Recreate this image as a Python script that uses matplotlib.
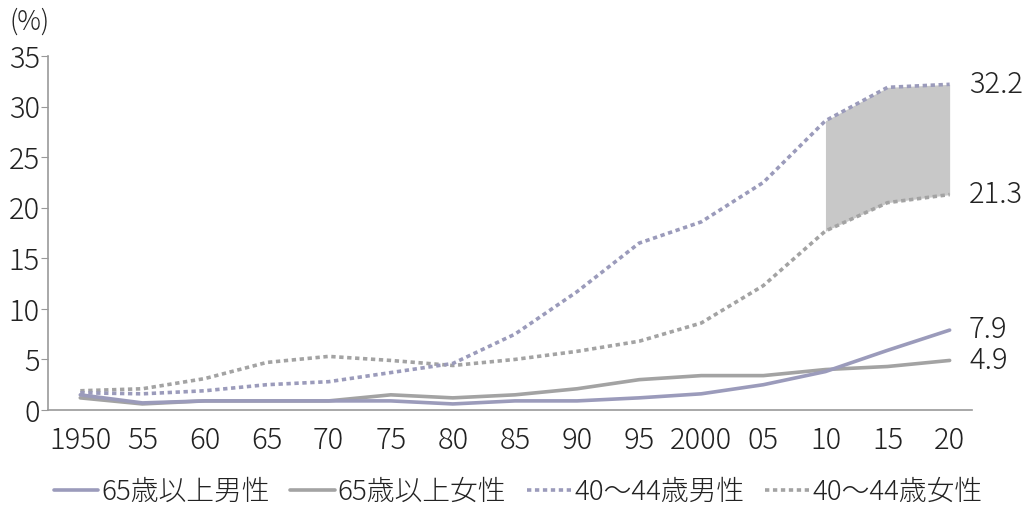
import numpy as np
import matplotlib
matplotlib.use("Agg")
import matplotlib.pyplot as plt

plt.rcParams['font.family'] = ['Noto Sans CJK JP', 'DejaVu Sans']
plt.rcParams['font.weight'] = 'light'

years = [1950, 1955, 1960, 1965, 1970, 1975, 1980, 1985, 1990, 1995, 2000, 2005, 2010, 2015, 2020]
year_labels = ["1950", "55", "60", "65", "70", "75", "80", "85", "90", "95", "2000", "05", "10", "15", "20"]

male_65 = [1.5, 0.7, 0.9, 0.9, 0.9, 0.9, 0.6, 0.9, 0.9, 1.2, 1.6, 2.5, 3.8, 5.9, 7.9]
female_65 = [1.2, 0.6, 0.9, 0.9, 0.9, 1.5, 1.2, 1.5, 2.1, 3.0, 3.4, 3.4, 4.0, 4.3, 4.9]
male_40 = [1.7, 1.6, 1.9, 2.5, 2.8, 3.7, 4.6, 7.5, 11.7, 16.5, 18.6, 22.5, 28.6, 31.9, 32.2]
female_40 = [1.9, 2.1, 3.1, 4.7, 5.3, 4.9, 4.4, 5.0, 5.8, 6.8, 8.6, 12.3, 17.7, 20.5, 21.3]

series_names = ["65歳以上男性", "65歳以上女性", "40〜44歳男性", "40〜44歳女性"]

purple = "#9b9bbb"
gray = "#a3a3a3"
dots = (0, (1.2, 1.0))

fig = plt.figure(figsize=(10.36, 5.13), dpi=100)
ax = fig.add_axes([48/1036, 103/513, 924/1036, 354/513])

x = np.array(years)
# shaded gap 2010-2020
m = x >= 2010
ax.fill_between(x[m], np.array(female_40)[m], np.array(male_40)[m], color="#c8c8c8", lw=0, zorder=1)

ax.plot(x, male_65, color=purple, lw=2.6, label=series_names[0], zorder=3, solid_capstyle='round')
ax.plot(x, female_65, color=gray, lw=2.6, label=series_names[1], zorder=2, solid_capstyle='round')
ax.plot(x, male_40, color=purple, lw=2.6, ls=dots, label=series_names[2], zorder=3, dash_capstyle='butt')
ax.plot(x, female_40, color=gray, lw=2.6, ls=dots, label=series_names[3], zorder=2, dash_capstyle='butt')

for vals in [male_40, female_40, male_65, female_65]:
    ax.annotate(f"{vals[-1]:.1f}", (years[-1], vals[-1]), xytext=(14, 0), textcoords="offset points",
                va="center", ha="left", fontsize=21, color="#222222", annotation_clip=False)

ax.set_xlim(1947.4, 2021.8)
ax.set_ylim(0, 35)
ax.set_yticks(range(0, 36, 5))
ax.set_xticks(years)
ax.set_xticklabels(year_labels)
ax.tick_params(axis='y', length=5, color="#999999", labelsize=21, labelcolor="#222222", pad=1)
ax.tick_params(axis='x', length=0, labelsize=21, labelcolor="#222222", pad=11)
for s in ["top", "right"]:
    ax.spines[s].set_visible(False)
for s in ["left", "bottom"]:
    ax.spines[s].set_color("#999999")
    ax.spines[s].set_linewidth(1.2)

fig.text(9/1036, 1 - 22/513, "(%)", fontsize=19, color="#222222", ha="left", va="center")

fig.legend(loc="lower center", bbox_to_anchor=(0.5, -0.035), ncol=4, frameon=False, fontsize=20,
           handlelength=1.6, handletextpad=0.1, columnspacing=0.75, labelcolor="#222222")

fig.savefig("out.png", dpi=100)
